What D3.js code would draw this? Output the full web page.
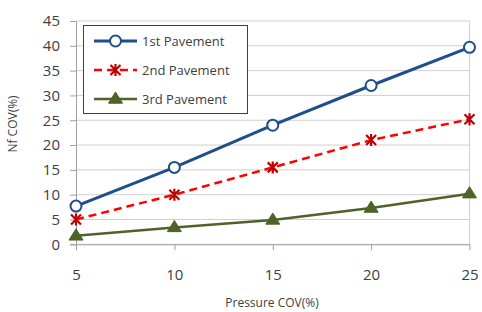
<!DOCTYPE html>
<meta charset="utf-8">
<script src="https://cdn.jsdelivr.net/npm/d3@7"></script>
<style>
body { margin: 0; background: #fff; }
text { font-family: "Open Sans", sans-serif; fill: #404040; }
.grid line { stroke: #d0d0d0; }
</style>
<body>
<script>

var categories = [5, 10, 15, 20, 25]
var pave1 = [7.7, 15.5, 24.0, 32.0, 39.7]
var pave2 = [5.0, 10.0, 15.5, 21.0, 25.2]
var pave3 = [1.7, 3.4, 4.9, 7.3, 10.2]
var yTicks = [0, 5, 10, 15, 20, 25, 30, 35, 40, 45]
var names = ['1st Pavement', '2nd Pavement', '3rd Pavement']

var width = 482, height = 312

var svg = d3.select("body").append("svg")
            .attr("width", width).attr("height", height)

var x = d3.scalePoint().domain(categories).range([76, 469.5])
var y = d3.scaleLinear().domain([0, 45]).range([244.3, 21])

// gridlines
svg.append("g").attr("class", "grid")
  .selectAll("line").data(yTicks).enter().append("line")
    .attr("x1", 76).attr("x2", 469.5)
    .attr("y1", d => y(d)).attr("y2", d => y(d))

// plot border right
svg.append("line").attr("x1", 469.5).attr("x2", 469.5).attr("y1", y(45)).attr("y2", y(0))
   .attr("stroke", "#d0d0d0")

var yAxis = svg.append("g").attr("transform", "translate(76,0)")
  .call(d3.axisLeft(y).tickValues(yTicks).tickSize(6).tickPadding(10))
yAxis.select(".domain").attr("stroke", "#a0a0a0")
yAxis.selectAll(".tick line").attr("stroke", "#a0a0a0")
yAxis.selectAll("text").style("font-size", "15px").attr("fill", "#404040")

var xAxis = svg.append("g").attr("transform", "translate(0," + y(0) + ")")
  .call(d3.axisBottom(x).tickSize(6).tickPadding(19).tickSizeOuter(0))
xAxis.select(".domain").attr("stroke", "#a0a0a0")
xAxis.selectAll(".tick line").attr("stroke", "#a0a0a0")
xAxis.selectAll("text").style("font-size", "15px").attr("fill", "#404040")

svg.append("text").attr("x", 272).attr("y", 307).attr("text-anchor", "middle")
   .style("font-size", "12px").text("Pressure COV(%)")
svg.append("text").attr("transform", "translate(17,124) rotate(-90)").attr("text-anchor", "middle")
   .style("font-size", "12px").text("Nf COV(%)")

var line = d3.line().x((d, i) => x(categories[i])).y(d => y(d))

var blue = "#1f4e8c", red = "#ff0000", darkred = "#c00000", green = "#4f6228"

function circleMark(g, cx, cy) {
  g.append("circle").attr("cx", cx).attr("cy", cy).attr("r", 5.5)
   .attr("fill", "#fff").attr("stroke", blue).attr("stroke-width", 2)
}
function starMark(g, cx, cy) {
  var s = 5
  var p = "M" + (cx - s) + "," + (cy - s) + "L" + (cx + s) + "," + (cy + s) +
          "M" + (cx - s) + "," + (cy + s) + "L" + (cx + s) + "," + (cy - s) +
          "M" + cx + "," + (cy - s - 1) + "L" + cx + "," + (cy + s + 1)
  g.append("path").attr("d", p).attr("stroke", darkred).attr("stroke-width", 2.2).attr("fill", "none")
}
function triMark(g, cx, cy) {
  var s = 7
  g.append("path").attr("d", "M" + cx + "," + (cy - s) + "L" + (cx + s) + "," + (cy + s * 0.6) +
      "L" + (cx - s) + "," + (cy + s * 0.6) + "Z").attr("fill", green).attr("stroke", green)
}

var series = [
  {vals: pave1, color: blue, w: 3, dash: null, mark: circleMark},
  {vals: pave2, color: red, w: 2.5, dash: "8,5", mark: starMark},
  {vals: pave3, color: green, w: 2.5, dash: null, mark: triMark}
]

series.forEach(function(s) {
  svg.append("path").datum(s.vals).attr("d", line).attr("fill", "none")
     .attr("stroke", s.color).attr("stroke-width", s.w).attr("stroke-dasharray", s.dash)
  var g = svg.append("g")
  s.vals.forEach(function(v, i) { s.mark(g, x(categories[i]), y(v)) })
})

// legend
var lg = svg.append("g")
lg.append("rect").attr("x", 83.5).attr("y", 25.5).attr("width", 164).attr("height", 88)
  .attr("fill", "#fff").attr("stroke", "#404040").attr("stroke-width", 1)
series.forEach(function(s, i) {
  var ly = 41 + i * 29
  lg.append("line").attr("x1", 94).attr("x2", 137).attr("y1", ly).attr("y2", ly)
    .attr("stroke", s.color).attr("stroke-width", s.w).attr("stroke-dasharray", s.dash)
  s.mark(lg, 115.5, ly)
  lg.append("text").attr("x", 142).attr("y", ly + 4.5).style("font-size", "13px").text(names[i])
})

</script>
</body>
